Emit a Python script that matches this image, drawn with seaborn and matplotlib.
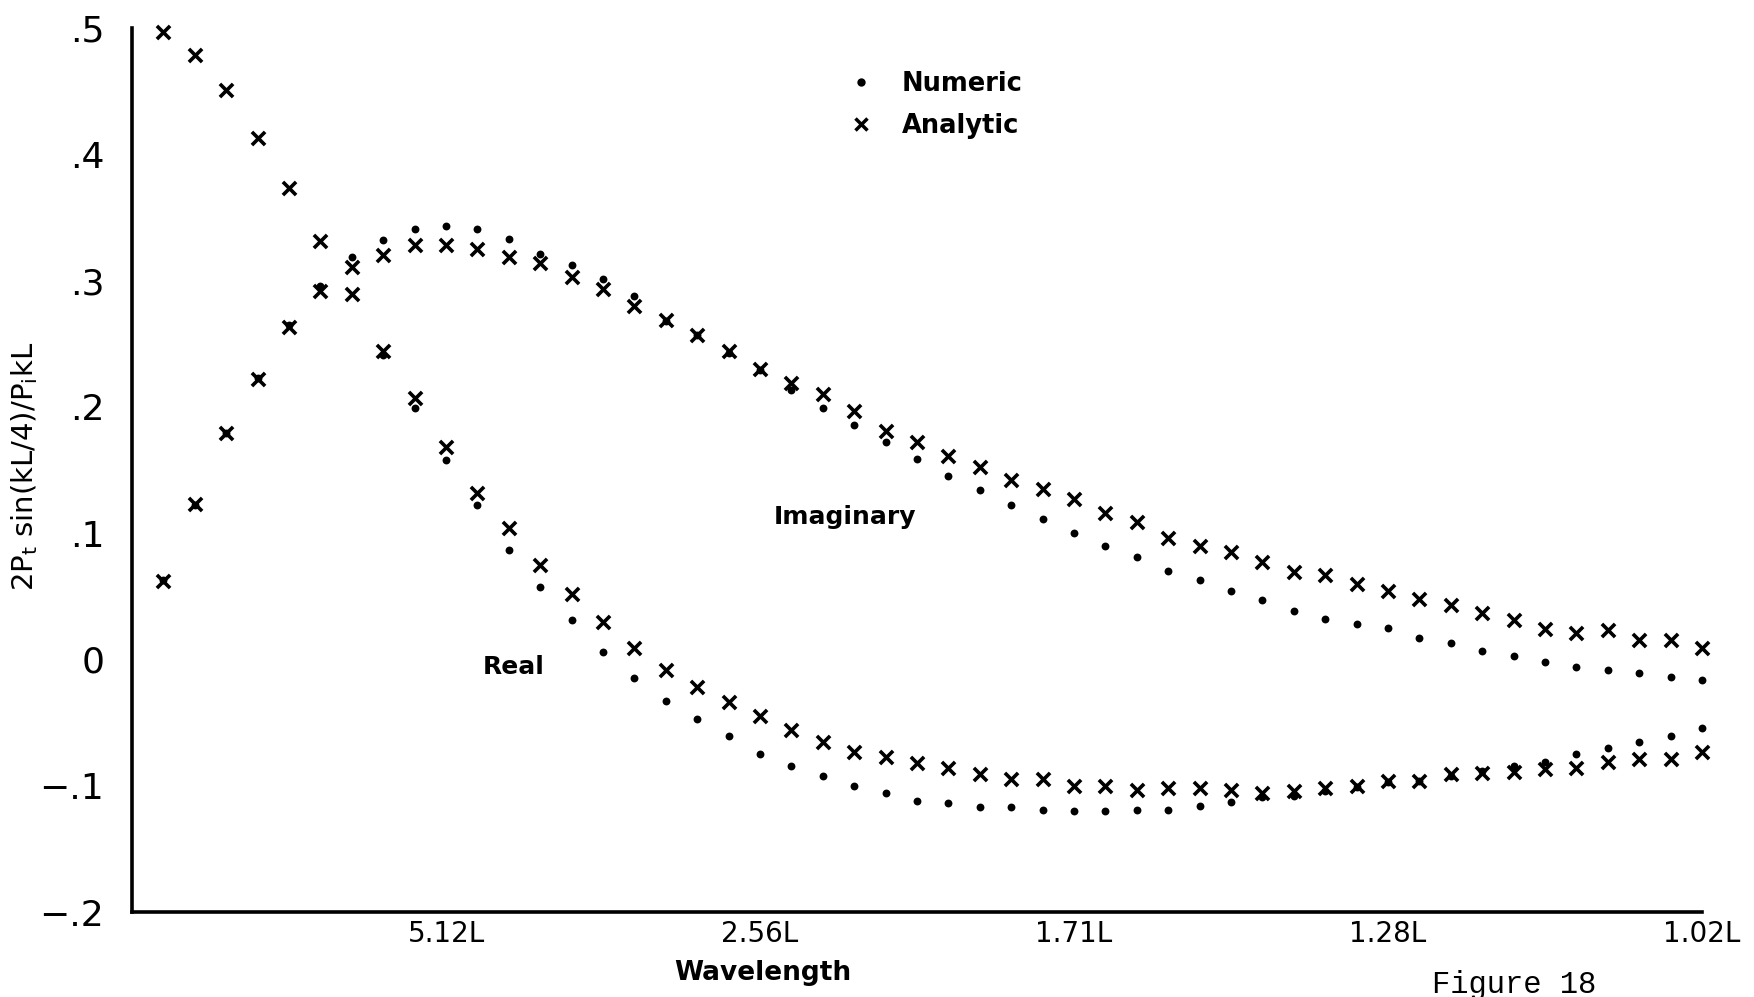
import numpy as np
import pandas as pd
import matplotlib
matplotlib.use("Agg")
import matplotlib.pyplot as plt
from matplotlib.lines import Line2D
import seaborn as sns

# Wavenumber index (in units of 2*pi/10.24L) at which each point was computed
wavenumber = [0.2, 0.4, 0.6, 0.8, 1.0, 1.2, 1.4, 1.6, 1.8, 2.0,
              2.2, 2.4, 2.6, 2.8, 3.0, 3.2, 3.4, 3.6, 3.8, 4.0,
              4.2, 4.4, 4.6, 4.8, 5.0, 5.2, 5.4, 5.6, 5.8, 6.0,
              6.2, 6.4, 6.6, 6.8, 7.0, 7.2, 7.4, 7.6, 7.8, 8.0,
              8.2, 8.4, 8.6, 8.8, 9.0, 9.2, 9.4, 9.6, 9.8, 10.0]

tick_positions = [2, 4, 6, 8, 10]
tick_labels = ["5.12L", "2.56L", "1.71L", "1.28L", "1.02L"]

y_ticks = [0.5, 0.4, 0.3, 0.2, 0.1, 0.0, -0.1, -0.2]
y_tick_labels = [".5", ".4", ".3", ".2", ".1", "0", "\u2212.1", "\u2212.2"]

nan = np.nan

real_analytic = [0.497, 0.479, 0.451, 0.413, 0.373, 0.331, 0.289, 0.244, 0.207, 0.168,
                 0.132, 0.104, 0.075, 0.052, 0.030, 0.009, -0.008, -0.022, -0.034, -0.045,
                 -0.056, -0.065, -0.073, -0.077, -0.082, -0.086, -0.091, -0.095, -0.095, -0.100,
                 -0.100, -0.103, -0.102, -0.102, -0.103, -0.106, -0.104, -0.102, -0.100, -0.096,
                 -0.096, -0.091, -0.090, -0.089, -0.087, -0.086, -0.081, -0.079, -0.079, -0.073]

real_numeric = [nan, nan, nan, nan, nan, nan, nan, 0.241, 0.199, 0.158,
                0.122, 0.087, 0.057, 0.031, 0.006, -0.015, -0.033, -0.047, -0.061, -0.075,
                -0.084, -0.092, -0.100, -0.106, -0.112, -0.114, -0.117, -0.117, -0.119, -0.120,
                -0.120, -0.119, -0.119, -0.116, -0.113, -0.109, -0.108, -0.104, -0.101, -0.097,
                -0.096, -0.092, -0.088, -0.084, -0.081, -0.075, -0.070, -0.065, -0.061, -0.054]

imag_analytic = [0.062, 0.123, 0.179, 0.222, 0.263, 0.292, 0.311, 0.320, 0.328, 0.328,
                 0.325, 0.319, 0.314, 0.303, 0.293, 0.280, 0.269, 0.257, 0.244, 0.230,
                 0.219, 0.210, 0.197, 0.181, 0.172, 0.161, 0.152, 0.142, 0.135, 0.127,
                 0.116, 0.109, 0.096, 0.090, 0.085, 0.077, 0.069, 0.067, 0.060, 0.054,
                 0.048, 0.043, 0.037, 0.031, 0.024, 0.021, 0.023, 0.015, 0.015, 0.009]

imag_numeric = [0.063, 0.122, 0.179, 0.223, 0.265, 0.296, 0.319, 0.332, 0.341, 0.343,
                0.341, 0.333, 0.321, 0.312, 0.301, 0.288, 0.268, 0.257, 0.243, 0.229,
                0.213, 0.199, 0.186, 0.172, 0.159, 0.145, 0.134, 0.122, 0.111, 0.100,
                0.090, 0.081, 0.070, 0.063, 0.054, 0.047, 0.038, 0.032, 0.028, 0.025,
                0.017, 0.013, 0.007, 0.003, -0.002, -0.006, -0.008, -0.011, -0.014, -0.016]

# Long-form table of all four series
frames = []
for part, method, vals in [("Real", "Analytic", real_analytic),
                           ("Real", "Numeric", real_numeric),
                           ("Imaginary", "Analytic", imag_analytic),
                           ("Imaginary", "Numeric", imag_numeric)]:
    frames.append(pd.DataFrame({"n": wavenumber, "value": vals,
                                "part": part, "method": method}))
df = pd.concat(frames, ignore_index=True).dropna()

sns.set_theme(style="white")
plt.rcParams["font.family"] = ["DejaVu Sans"]
plt.rcParams["mathtext.default"] = "regular"
plt.rcParams["text.color"] = "black"
plt.rcParams["axes.labelcolor"] = "black"
plt.rcParams["xtick.color"] = "black"
plt.rcParams["ytick.color"] = "black"

W, H = 1754, 997
fig = plt.figure(figsize=(W / 100, H / 100), dpi=100)
ax = fig.add_axes([132 / W, 1 - 912 / H, (1702 - 132) / W, (912 - 28) / H])

sns.scatterplot(data=df[df["method"] == "Numeric"], x="n", y="value",
                marker="o", color="black", s=32, linewidth=0, ax=ax,
                legend=False, clip_on=False)
sns.scatterplot(data=df[df["method"] == "Analytic"], x="n", y="value",
                marker="x", color="black", s=90, linewidth=2.6, ax=ax,
                legend=False, clip_on=False)

ax.set_xlim(0, 10)
ax.set_ylim(-0.2, 0.5)

for side in ["top", "right"]:
    ax.spines[side].set_visible(False)
for side in ["left", "bottom"]:
    ax.spines[side].set_color("black")
    ax.spines[side].set_linewidth(2.6)

ax.set_xticks(tick_positions)
ax.set_xticklabels(tick_labels, fontsize=20, color="black")
ax.set_yticks(y_ticks)
ax.set_yticklabels(y_tick_labels, fontsize=26, color="black")
ax.tick_params(axis="x", direction="in", length=9, width=2.2, pad=6, colors="black")
ax.tick_params(axis="y", direction="out", length=7, width=2.2, pad=13, colors="black")
ax.set_xlabel("")
ax.set_ylabel("")

# Axis titles
fig.text(763 / W, 1 - 973 / H, "Wavelength", ha="center", va="center",
         fontsize=19, fontweight="bold", color="black")
fig.text(25 / W, 1 - 466 / H, r"2P$_t$ sin(kL/4)/P$_i$kL", rotation=90,
         ha="center", va="center", fontsize=21, color="black")

# Curve annotations
ax.text(4.54, 0.113, "Imaginary", ha="center", va="center",
        fontsize=18, fontweight="bold", color="black")
ax.text(2.43, -0.006, "Real", ha="center", va="center",
        fontsize=18, fontweight="bold", color="black")

# Legend
handles = [Line2D([], [], linestyle="none", marker="o", color="black",
                  markersize=6, markeredgewidth=0),
           Line2D([], [], linestyle="none", marker="x", color="black",
                  markersize=9, markeredgewidth=2.5)]
leg = fig.legend(handles, ["Numeric", "Analytic"], loc="center left",
                 bbox_to_anchor=(848 / W, 1 - 105 / H), frameon=False,
                 prop={"size": 18.5, "weight": "bold"}, handlelength=1.0,
                 handletextpad=1.1, labelspacing=0.62, borderpad=0,
                 borderaxespad=0, labelcolor="black")

fig.text(1514 / W, 1 - 985 / H, "Figure 18", ha="center", va="center",
         fontsize=22, family="Liberation Mono", color="black")

fig.savefig("out.png", dpi=100, facecolor="white")
